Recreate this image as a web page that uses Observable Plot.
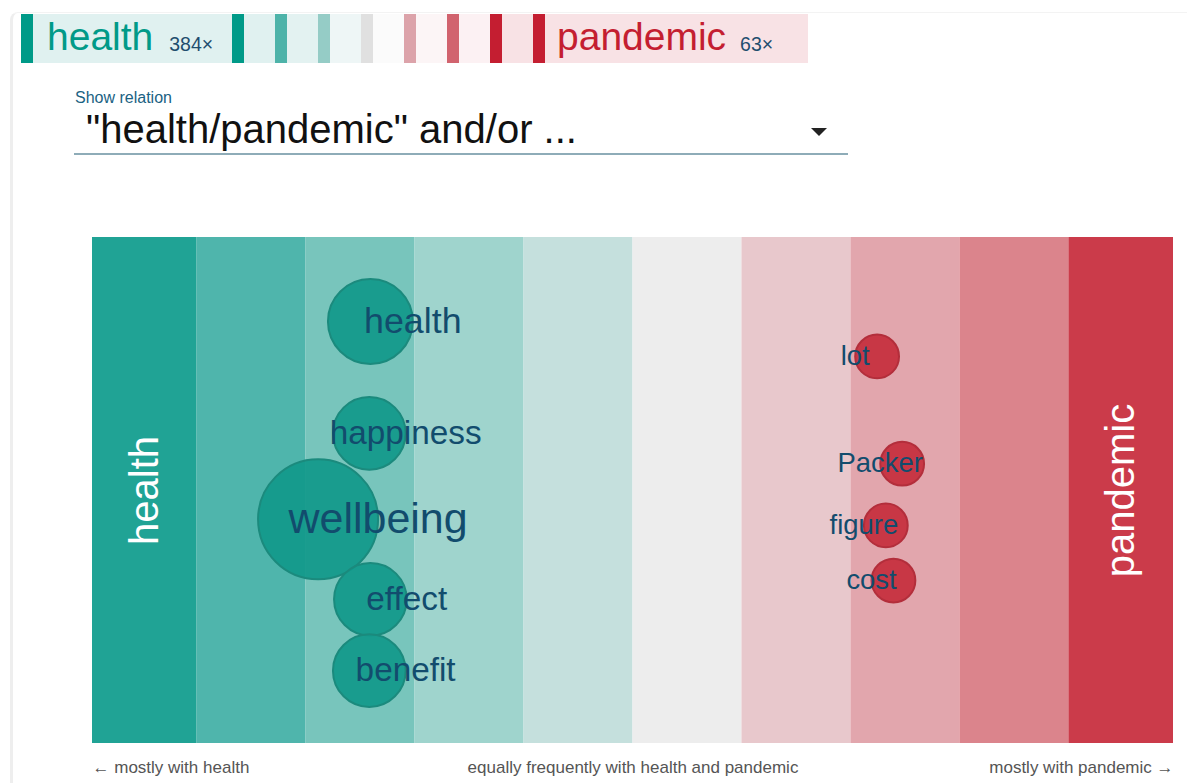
<!DOCTYPE html>
<html>
<head>
<meta charset="utf-8">
<script src="https://cdn.jsdelivr.net/npm/d3@7"></script>
<script src="https://cdn.jsdelivr.net/npm/@observablehq/plot@0.6"></script>
<style>
  html, body { margin: 0; padding: 0; background: #fff; }
  body { width: 1187px; height: 783px; overflow: hidden; position: relative; font-family: "Liberation Sans", Arial, sans-serif; }
  .frame { position: absolute; left: 10px; top: 12px; width: 1300px; height: 900px; border-left: 3px solid #eeeeee; border-top: 1px solid #f3f3f3; border-top-left-radius: 8px; }
  #header { position: absolute; left: 21px; top: 14px; height: 49px; display: flex; }
  #header > div { height: 49px; position: relative; }
  .term { font-size: 39px; position: absolute; top: 1px; white-space: nowrap; }
  .count { font-size: 19.5px; color: #1f4e6e; position: absolute; top: 19px; white-space: nowrap; }
  #relLabel { position: absolute; left: 75px; top: 89px; font-size: 16px; color: #1a6283; }
  #relSelect { position: absolute; left: 74px; top: 106px; width: 774px; height: 47px; border-bottom: 2px solid #8eacb8; }
  #relText { position: absolute; left: 12px; top: 1px; font-size: 40px; color: #111; white-space: nowrap; }
  #relArrow { position: absolute; left: 737px; top: 22px; width: 0; height: 0; border-left: 8px solid transparent; border-right: 8px solid transparent; border-top: 8px solid #222; }
  #chart { position: absolute; left: 0; top: 200px; }
</style>
</head>
<body>
<div class="frame"></div>
<div id="header"></div>
<div id="relLabel">Show relation</div>
<div id="relSelect"><div id="relText"></div><div id="relArrow"></div></div>
<div id="chart"></div>
<script>
// ---- data ----
const terms = ["health", "pandemic"];
const termCounts = [384, 63];
const relationText = "\"health/pandemic\" and/or ...";

const bandEdges = [-4.96, -4, -3, -2, -1, 0, 1, 2, 3, 4, 4.96];
const bandColors = ["#20a395", "#4fb5ac", "#78c5bc", "#9fd4cd", "#c5e0dd", "#ededed", "#e8c8cc", "#e2a6ad", "#db848c", "#cb3b4a"];

const words = ["health", "happiness", "wellbeing", "effect", "benefit", "lot", "Packer", "figure", "cost"];
const wordSide = ["health", "health", "health", "health", "health", "pandemic", "pandemic", "pandemic", "pandemic"];
const wordScore = [-2.41, -2.42, -2.89, -2.41, -2.42, 2.24, 2.47, 2.32, 2.39];
const wordRow = [0.166, 0.387, 0.557, 0.715, 0.856, 0.235, 0.447, 0.569, 0.678];
const wordCount = [15, 11, 30, 11, 11, 4, 4, 4, 4];

const axisLabels = ["← mostly with health", "equally frequently with health and pandemic", "mostly with pandemic →"];

// header legend strips
const headerBarColors = ["#009a88", "#009a88", "#4db3a9", "#95ccc6", "#e0e0e0", "#dca3aa", "#d1636e", "#c41e31", "#c41e31"];
const headerGapColors = ["#e0f1f0", "#e3f2f1", "#eef6f6", "#fbfbfb", "#fcf5f6", "#fcf1f3", "#f8e2e5"];
const termColors = ["#009a88", "#c41e31"];
const termBg = ["#e0f1f0", "#f8e2e5"];

// ---- header ----
const header = document.getElementById("header");
function seg(w, bg) { const d = document.createElement("div"); d.style.width = w + "px"; d.style.background = bg; header.appendChild(d); return d; }
function termBlock(el, i, left) {
  const t = document.createElement("span"); t.className = "term"; t.style.left = left + "px"; t.style.color = termColors[i]; t.textContent = terms[i]; el.appendChild(t);
  const c = document.createElement("span"); c.className = "count"; c.textContent = termCounts[i] + "×"; el.appendChild(c);
  return [t, c];
}
seg(12, headerBarColors[0]);
const hb = seg(199, termBg[0]);
const [ht, hc] = termBlock(hb, 0, 14);
for (let i = 1; i < headerBarColors.length; i++) {
  seg(12, headerBarColors[i]);
  if (i - 1 < headerGapColors.length) seg(31, headerGapColors[i - 1]);
}
const pb = seg(263, termBg[1]);
const [pt, pc] = termBlock(pb, 1, 12);
hc.style.left = (14 + ht.getBoundingClientRect().width + 16) + "px";
pc.style.left = (12 + pt.getBoundingClientRect().width + 14) + "px";

document.getElementById("relText").textContent = relationText;

// ---- chart ----
const width = 1187, marginLeft = 92, marginRight = 14, marginTop = 37, marginBottom = 40;
const height = marginTop + 506 + marginBottom;
const xDomain = [bandEdges[0], bandEdges[bandEdges.length - 1]];
const rMax = 60, rDomainMax = 30;
const pxPerUnit = (width - marginLeft - marginRight) / (xDomain[1] - xDomain[0]);
const rPx = c => rMax * Math.sqrt(c / rDomainMax);

const bands = bandEdges.slice(0, -1).map((e, i) => ({x1: e, x2: bandEdges[i + 1], fill: bandColors[i]}));
const data = words.map((w, i) => ({word: w, side: wordSide[i], score: wordScore[i], row: wordRow[i], count: wordCount[i]}));
const endLabels = [
  {label: terms[0], x: (bandEdges[0] + bandEdges[1]) / 2},
  {label: terms[1], x: (bandEdges[bandEdges.length - 2] + bandEdges[bandEdges.length - 1]) / 2}
];

const plot = Plot.plot({
  width, height, marginLeft, marginRight, marginTop, marginBottom,
  style: {fontFamily: "'Liberation Sans', Arial, sans-serif", background: "transparent", overflow: "visible"},
  x: {domain: xDomain, axis: null},
  y: {domain: [0, 1], reverse: true, axis: null},
  r: {type: "sqrt", domain: [0, rDomainMax], range: [0, rMax]},
  color: {type: "identity"},
  marks: [
    Plot.rect(bands, {x1: "x1", x2: "x2", fill: "fill"}),
    Plot.text(endLabels, {x: "x", frameAnchor: "middle", text: "label", rotate: -90, fontSize: 40, fill: "white"}),
    Plot.dot(data, {
      x: "score", y: "row", r: "count",
      fill: d => d.side === "health" ? "#12998b" : "#c62e3d",
      stroke: d => d.side === "health" ? "#1b8a7d" : "#b32e3b",
      strokeWidth: 2, fillOpacity: 0.93
    }),
    Plot.text(data, {
      x: d => d.score + (d.side === "health" ? 1 : -1) * rPx(d.count) / pxPerUnit,
      y: "row", text: "word",
      fontSize: d => 18.5 + 0.408 * rPx(d.count),
      fill: "#124c6d"
    }),
    Plot.text([axisLabels[0]], {frameAnchor: "bottom-left", textAnchor: "start", lineAnchor: "middle", dy: 24, fontSize: 17, fill: "#555"}),
    Plot.text([axisLabels[1]], {frameAnchor: "bottom", textAnchor: "middle", lineAnchor: "middle", dy: 24, fontSize: 17, fill: "#555"}),
    Plot.text([axisLabels[2]], {frameAnchor: "bottom-right", textAnchor: "end", lineAnchor: "middle", dy: 24, fontSize: 17, fill: "#555"})
  ]
});
document.getElementById("chart").appendChild(plot);
</script>
</body>
</html>
